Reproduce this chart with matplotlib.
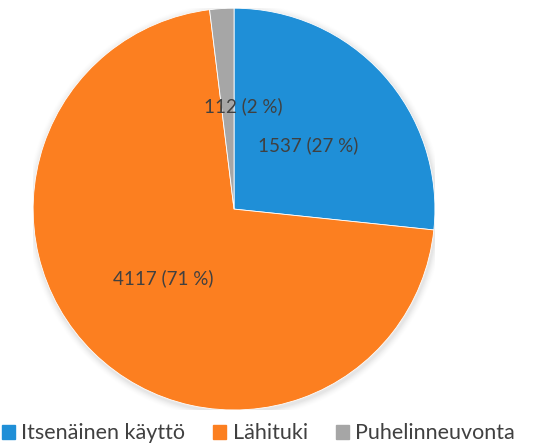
import numpy as np
import matplotlib.pyplot as plt
from matplotlib.patches import Circle

plt.rcParams['font.family'] = ['Lato', 'DejaVu Sans']

categories = ["Itsenäinen käyttö", "Lähituki", "Puhelinneuvonta"]
values = [1537, 4117, 112]
pct_labels = ["27 %", "71 %", "2 %"]
colors = ["#1f8fd7", "#fc7f20", "#a6a6a6"]

fig = plt.figure(figsize=(5.5, 4.43), dpi=100)
ax = fig.add_axes([0.06, 0.0745, 0.731, 0.907])

# soft shadow behind the pie
for i, a in enumerate(np.linspace(0.05, 0.01, 6)):
    ax.add_patch(Circle((0.005, -0.01), 1.0 + 0.006 * (i + 1), color="gray",
                        alpha=a, lw=0, zorder=0))

wedges, _ = ax.pie(values, colors=colors, startangle=90, counterclock=False,
                   radius=1.0, wedgeprops=dict(linewidth=0.6, edgecolor="white"))
for w in wedges:
    w.set_zorder(2)

ax.set_xlim(-1.0, 1.0)
ax.set_ylim(-1.0, 1.0)
ax.set_aspect('equal')
ax.axis('off')

label_pos = [(0.37, 0.32), (-0.35, -0.345), (0.045, 0.51)]
for v, p, pos in zip(values, pct_labels, label_pos):
    ax.text(pos[0], pos[1], f"{v} ({p})", ha="center", va="center",
            fontsize=13.5, color="#404040", zorder=3)

handles = [plt.Rectangle((0, 0), 1, 1, color=c) for c in colors]
fig.legend(handles, categories, loc="center", bbox_to_anchor=(0.47, 0.022),
           ncol=3, frameon=False, fontsize=15.5, handlelength=0.6,
           handleheight=0.6, handletextpad=0.3, columnspacing=1.3,
           labelcolor="#404040")

fig.savefig("out.png", dpi=100)
